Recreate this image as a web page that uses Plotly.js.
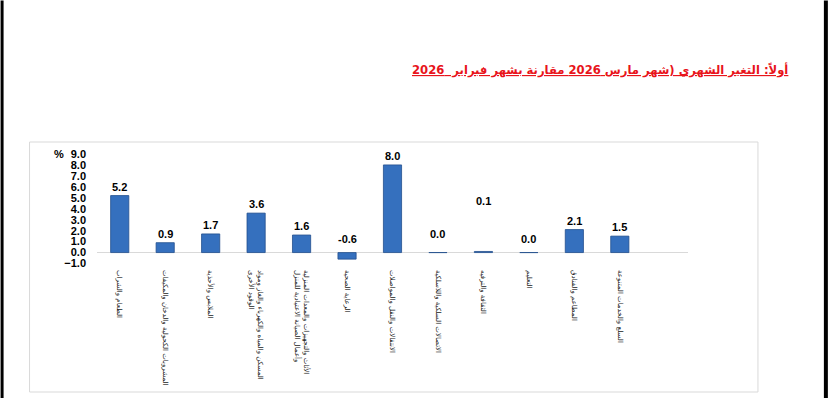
<!DOCTYPE html>
<html>
<head>
<meta charset="utf-8">
<script src="https://cdn.plot.ly/plotly-3.0.1.min.js"></script>
<style>
html,body{margin:0;padding:0;background:#fff;}
#chart{width:828px;height:399px;}
</style>
</head>
<body>
<div id="chart"></div>
<script>
// ---- data ----
const categories = [
  'الطعام والشراب',
  'المشروبات الكحولية والدخان والمكيفات',
  'الملابس والأحذية',
  'المسكن والمياه والكهرباء والغاز ومواد<br>الوقود الأخرى',
  'الأثاث والتجهيزات والمعدات المنزلية<br>وأعمال الصيانة الاعتيادية للمنزل',
  'الرعاية الصحية',
  'الانتقالات والنقل والمواصلات',
  'الاتصالات السلكية واللاسلكية',
  'الثقافة والترفيه',
  'التعليم',
  'المطاعم والفنادق',
  'السلع والخدمات المتنوعة'
];
const values = [5.2, 0.9, 1.7, 3.6, 1.6, -0.6, 8.0, 0.0, 0.1, 0.0, 2.1, 1.5];
const yTickVals = [-1, 0, 1, 2, 3, 4, 5, 6, 7, 8, 9];
const titleText = 'أولاً: التغير الشهري (شهر مارس 2026 مقارنة بشهر فبراير  2026';
const unitLabel = '%';

// ---- layout geometry (pixels) ----
const W = 828, H = 399;
const ml = 96.5, mr = 140, mt = 143, mb = 129.5;
const pw = W - ml - mr, ph = H - mt - mb;
const px = x => (x - ml) / pw;
const py = y => 1 - (y - mt) / ph;

// label nudges (px) for labels drawn higher than usual in the original
const labelNudge = {5: 5, 7: 10, 8: 41, 9: 5};

const annotations = values.map((v, i) => ({
  x: categories[i], y: Math.max(v, 0), xref: 'x', yref: 'y',
  text: v.toFixed(1), showarrow: false, yanchor: 'middle',
  yshift: 9 + (labelNudge[i] || 0),
  font: {family: 'Liberation Sans, Arial, sans-serif', size: 11, color: '#000', weight: 'bold'}
}));
annotations.push({
  xref: 'paper', yref: 'paper', x: px(65), y: py(154), xanchor: 'right', yanchor: 'middle',
  text: '<b>' + unitLabel + '</b>', showarrow: false,
  font: {family: 'Liberation Sans, Arial, sans-serif', size: 11, color: '#000'}
});
annotations.push({
  xref: 'paper', yref: 'paper', x: px(790), y: py(70), xanchor: 'right', yanchor: 'middle',
  text: '<b><u>' + titleText + '</u></b>', showarrow: false,
  font: {family: 'DejaVu Sans, sans-serif', size: 11.6, color: '#E8141B'}
});

const shapes = [
  {type: 'rect', xref: 'paper', yref: 'paper', x0: px(29), x1: px(758), y0: py(393), y1: py(142),
   line: {color: '#D9D9D9', width: 1}, fillcolor: 'rgba(0,0,0,0)', layer: 'below'},
  {type: 'rect', xref: 'paper', yref: 'paper', x0: px(0), x1: px(3), y0: py(H), y1: py(0),
   line: {width: 0}, fillcolor: '#000'},
  {type: 'rect', xref: 'paper', yref: 'paper', x0: px(824), x1: px(W), y0: py(H), y1: py(0),
   line: {width: 0}, fillcolor: '#000'}
];

const trace = {
  type: 'bar', x: categories, y: values, width: 0.4,
  marker: {color: '#3570BE', line: {color: '#234F8E', width: 0.8}},
  hoverinfo: 'none'
};

const layout = {
  width: W, height: H,
  margin: {l: ml, r: mr, t: mt, b: mb, pad: 0},
  paper_bgcolor: '#fff', plot_bgcolor: '#fff',
  showlegend: false,
  xaxis: {
    type: 'category', range: [-0.5, 12.5], showgrid: false, showline: false, zeroline: false,
    ticks: '', tickangle: 90, automargin: false,
    tickfont: {family: 'DejaVu Sans, sans-serif', size: 7, color: '#222'}
  },
  yaxis: {
    range: [-1.5, 10], tickmode: 'array', tickvals: yTickVals, tickformat: '.1f',
    showgrid: false, showline: false, ticks: '', automargin: false,
    zeroline: true, zerolinecolor: '#D9D9D9', zerolinewidth: 1.5,
    ticklabelstandoff: 10,
    tickfont: {family: 'Liberation Sans, Arial, sans-serif', size: 11, color: '#000', weight: 'bold'}
  },
  annotations: annotations,
  shapes: shapes
};

Plotly.newPlot('chart', [trace], layout, {displayModeBar: false, staticPlot: true});
</script>
</body>
</html>
